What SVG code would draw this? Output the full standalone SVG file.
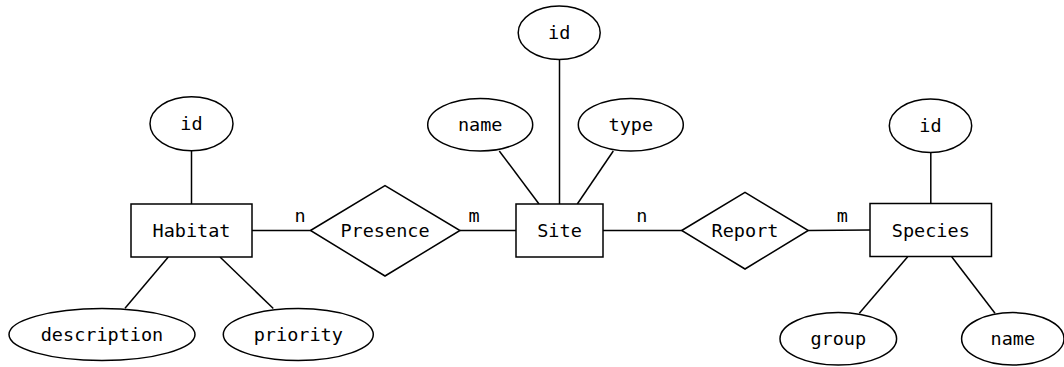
<svg xmlns="http://www.w3.org/2000/svg" width="1064" height="367" viewBox="0 0 1064 367">
<style>
.s{fill:#fff;stroke:#000;stroke-width:1.5}
.c line{stroke:#000;stroke-width:1.5}
text{font-family:"DejaVu Sans Mono",monospace;font-size:18.5px;fill:#000;text-anchor:middle}
</style>
<rect width="1064" height="367" fill="#fff"/>
<g class="c" id="connectors">
<line x1="191.5" y1="150.7" x2="191.5" y2="204"/>
<line x1="125" y1="308.3" x2="168.3" y2="257"/>
<line x1="220" y1="257" x2="273.3" y2="308.5"/>
<line x1="252" y1="230.5" x2="310.5" y2="230.5"/>
<line x1="460" y1="230.5" x2="516" y2="230.5"/>
<line x1="559.5" y1="59.3" x2="559.5" y2="204"/>
<line x1="499.3" y1="151" x2="539" y2="204"/>
<line x1="613.3" y1="151" x2="577.3" y2="204"/>
<line x1="603" y1="230.5" x2="681.7" y2="230.5"/>
<line x1="808.3" y1="230.5" x2="870" y2="230"/>
<line x1="930.8" y1="152.3" x2="930.8" y2="203.5"/>
<line x1="859.3" y1="313.3" x2="907.7" y2="256.7"/>
<line x1="951.7" y1="256.7" x2="995" y2="313.3"/>
</g>
<g id="labels">
<text x="300" y="222.3">n</text>
<text x="474" y="222.3">m</text>
<text x="641.7" y="222.3">n</text>
<text x="842.3" y="222.3">m</text>
</g>
<g id="habitat"><rect class="s" x="131" y="204" width="121" height="53"/><text x="191.5" y="237">Habitat</text></g>
<g id="habitat-id"><ellipse class="s" cx="191.5" cy="123.7" rx="41.5" ry="27"/><text x="191.5" y="130.2">id</text></g>
<g id="habitat-description"><ellipse class="s" cx="102" cy="334.5" rx="93" ry="26"/><text x="102" y="341">description</text></g>
<g id="habitat-priority"><ellipse class="s" cx="298.3" cy="334.5" rx="75" ry="26"/><text x="298.3" y="341">priority</text></g>
<g id="presence"><polygon class="s" points="310.5,230.5 385,185.7 460,230.5 385,276"/><text x="385" y="237">Presence</text></g>
<g id="site"><rect class="s" x="516" y="204" width="87" height="53"/><text x="559.5" y="237">Site</text></g>
<g id="site-id"><ellipse class="s" cx="559.2" cy="32.7" rx="41" ry="26.7"/><text x="559.2" y="39.2">id</text></g>
<g id="site-name"><ellipse class="s" cx="480.2" cy="124.7" rx="52.5" ry="26.3"/><text x="480.2" y="131.2">name</text></g>
<g id="site-type"><ellipse class="s" cx="630.8" cy="124.7" rx="52.5" ry="26.3"/><text x="630.8" y="131.2">type</text></g>
<g id="report"><polygon class="s" points="681.7,230.5 745,192.3 808.3,230.5 745,269"/><text x="745" y="237">Report</text></g>
<g id="species"><rect class="s" x="870" y="203.5" width="121.5" height="53"/><text x="930.8" y="236.5">Species</text></g>
<g id="species-id"><ellipse class="s" cx="930.5" cy="125.7" rx="41.2" ry="26.7"/><text x="930.5" y="132.2">id</text></g>
<g id="species-group"><ellipse class="s" cx="838.3" cy="338.8" rx="58.3" ry="26.2"/><text x="838.3" y="345.3">group</text></g>
<g id="species-name"><ellipse class="s" cx="1012.8" cy="338.8" rx="51.2" ry="26.2"/><text x="1012.8" y="345.3">name</text></g>
</svg>
